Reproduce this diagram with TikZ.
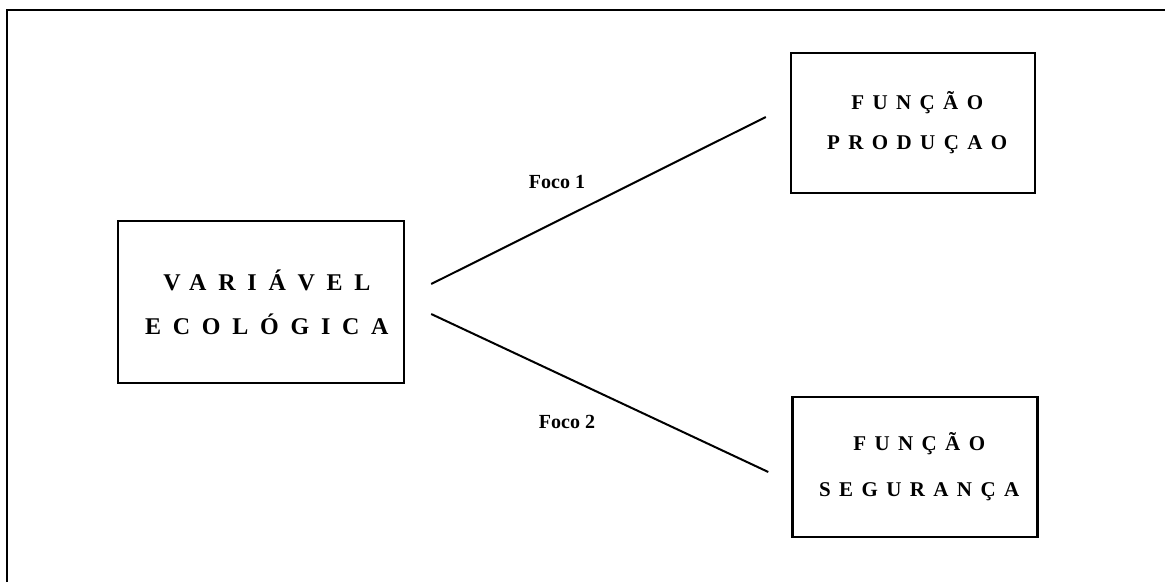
\documentclass[tikz,border=0pt]{standalone}
\usepackage{fontspec}
\setmainfont{Liberation Serif}
\newcommand\spaced[2]{{\addfontfeature{LetterSpace=#1}#2}\kern-#1\dimexpr0.01em\relax}
\begin{document}
\begin{tikzpicture}[x=1pt,y=-1pt,
  box/.style={draw, line width=2.4pt, align=center, inner sep=0pt},
  conn/.style={line width=2pt},
  foco/.style={font=\fontsize{20}{22}\selectfont\bfseries}]
\useasboundingbox (0,0) rectangle (1165,582);
\draw[line width=2pt] (7,582) -- (7,10) -- (1165,10);
% caixas
\node [box, minimum width=286pt, minimum height=162pt,
  font=\fontsize{24}{44}\selectfont\bfseries] (vareco) at (261,302)
  {\spaced{49}{VARIÁVEL}\\\spaced{49}{ECOLÓGICA}};
\node [box, minimum width=244pt, minimum height=140pt,
  font=\fontsize{21}{40}\selectfont\bfseries] (fprod) at (913,123)
  {\spaced{40}{FUNÇÃO}\\\spaced{40}{PRODUÇAO}};
\node [box, minimum width=245pt, minimum height=140pt,
  font=\fontsize{21}{46}\selectfont\bfseries] (fseg) at (915,467)
  {\spaced{40}{FUNÇÃO}\\\spaced{40}{SEGURANÇA}};
% ligacoes
\draw[conn] ([shift={(26,-18)}]vareco.east) -- ([shift={(-24,-6)}]fprod.west);
\draw[conn] ([shift={(26,12)}]vareco.east) -- ([shift={(-23,5)}]fseg.west);
\node [foco] (foco1) at (557,182) {Foco 1};
\node [foco] (foco2) at (567,422) {Foco 2};
\end{tikzpicture}
\end{document}
